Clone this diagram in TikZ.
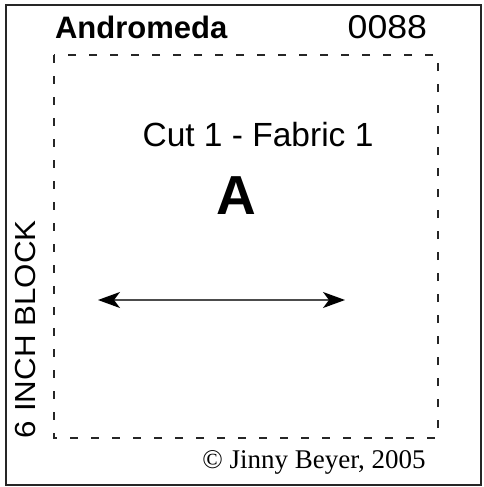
\documentclass[tikz,border=0pt]{standalone}
\usepackage{fontspec}
\setmainfont{Liberation Serif}
\setsansfont{Liberation Sans}
\usetikzlibrary{arrows.meta}
\begin{document}
\begin{tikzpicture}[x=1pt,y=-1pt,
  frame/.style={draw=black!85, line width=2pt},
  dashbox/.style={draw=black!85, line width=2.7pt, dash pattern=on 8pt off 13pt},
  lbl/.style={inner sep=0pt, outer sep=0pt, font=\sffamily},
  grain/.style={line width=1.2pt, draw=black!70, {Stealth[length=22pt,width=16pt,inset=6pt,color=black,fill=black]}-{Stealth[length=22pt,width=16pt,inset=6pt,color=black,fill=black]}}]
\useasboundingbox (0,0) rectangle (483,487);
\draw[frame] (6,5) rectangle (481,485);
\draw[dashbox] (54,55) rectangle (438,438);
\node[lbl, anchor=base west, font=\sffamily\bfseries\fontsize{31}{31}\selectfont] (title) at (55,38) {Andromeda};
\node[lbl, anchor=base east, font=\sffamily\fontsize{33}{33}\selectfont, xscale=1.08] (num) at (427,39) {0088};
\node[lbl, anchor=base, font=\sffamily\fontsize{33.5}{33.5}\selectfont] (cut) at (258,146) {Cut 1 - Fabric 1};
\node[lbl, anchor=base, font=\sffamily\bfseries\fontsize{55}{55}\selectfont] (letter) at (236,214) {A};
\node[lbl, anchor=base west, rotate=90, font=\sffamily\fontsize{29}{29}\selectfont, xscale=1.08] (block) at (35,438) {6 INCH BLOCK};
\node[lbl, anchor=base, font=\rmfamily\fontsize{27}{27}\selectfont] (copy) at (314,468) {© Jinny Beyer, 2005};
\coordinate (gl) at (98,300);
\coordinate (gr) at (345,300);
\draw[grain] (gl) -- (gr);
\end{tikzpicture}
\end{document}
